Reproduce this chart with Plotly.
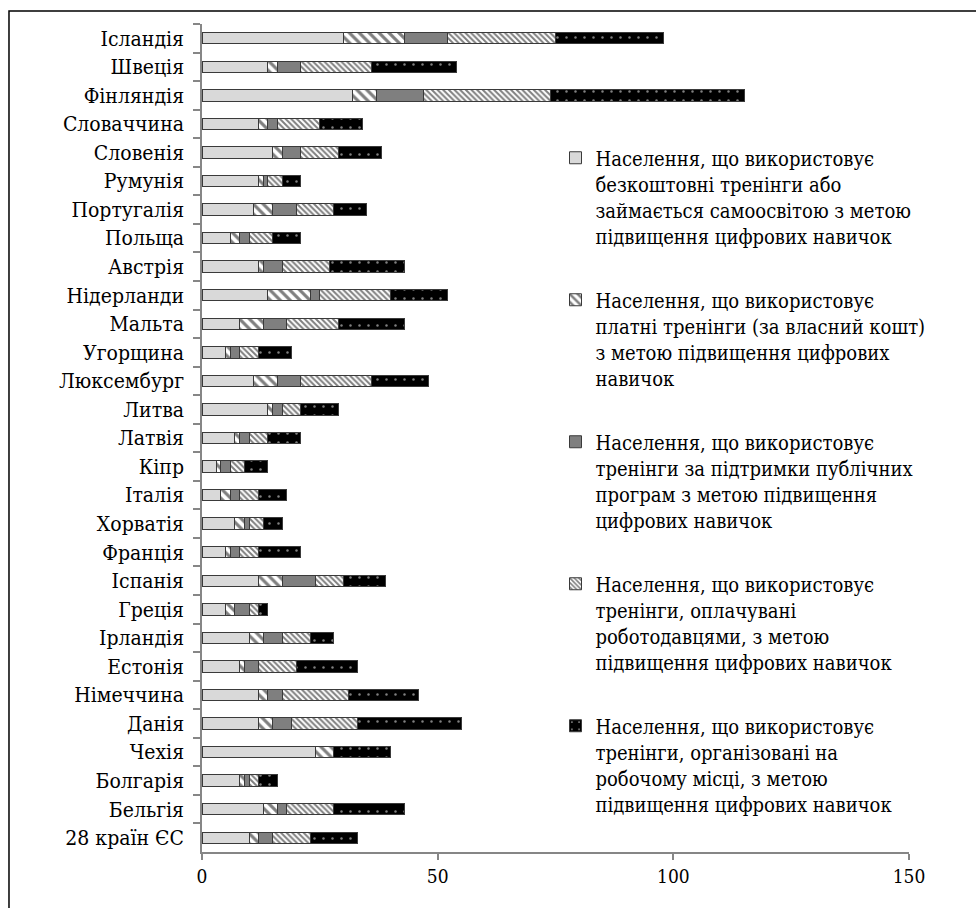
import plotly.graph_objects as go

countries = ["Ісландія", "Швеція", "Фінляндія", "Словаччина", "Словенія", "Румунія",
             "Португалія", "Польща", "Австрія", "Нідерланди", "Мальта", "Угорщина",
             "Люксембург", "Литва", "Латвія", "Кіпр", "Італія", "Хорватія", "Франція",
             "Іспанія", "Греція", "Ірландія", "Естонія", "Німеччина", "Данія", "Чехія",
             "Болгарія", "Бельгія", "28 країн ЄС"]

free_self = [30, 14, 32, 12, 15, 12, 11, 6, 12, 14, 8, 5, 11, 14, 7, 3, 4, 7, 5, 12, 5, 10, 8, 12, 12, 24, 8, 13, 10]
paid_own = [13, 2, 5, 2, 2, 1, 4, 2, 1, 9, 5, 1, 5, 1, 1, 1, 2, 2, 1, 5, 2, 3, 1, 2, 3, 4, 1, 3, 2]
public_prog = [9, 5, 10, 2, 4, 1, 5, 2, 4, 2, 5, 2, 5, 2, 2, 2, 2, 1, 2, 7, 3, 4, 3, 3, 4, 0, 1, 2, 3]
employer_paid = [23, 15, 27, 9, 8, 3, 8, 5, 10, 15, 11, 4, 15, 4, 4, 3, 4, 3, 4, 6, 2, 6, 8, 14, 14, 0, 2, 10, 8]
on_the_job = [23, 18, 41, 9, 9, 4, 7, 6, 16, 12, 14, 7, 12, 8, 7, 5, 6, 4, 9, 9, 2, 5, 13, 15, 22, 12, 4, 15, 10]

names = [
    "Населення, що використовує<br>безкоштовні тренінги або<br>займається самоосвітою з метою<br>підвищення цифрових навичок",
    "Населення, що використовує<br>платні тренінги (за власний кошт)<br>з метою підвищення цифрових<br>навичок",
    "Населення, що використовує<br>тренінги за підтримки публічних<br>програм з метою підвищення<br>цифрових навичок",
    "Населення, що використовує<br>тренінги, оплачувані<br>роботодавцями, з метою<br>підвищення цифрових навичок",
    "Населення, що використовує<br>тренінги, організовані на<br>робочому місці, з метою<br>підвищення цифрових навичок",
]

series = [free_self, paid_own, public_prog, employer_paid, on_the_job]
styles = [
    dict(color="#d9d9d9"),
    dict(color="white", pattern=dict(shape="\\", fgcolor="black", bgcolor="white", size=7, solidity=0.45)),
    dict(color="#7f7f7f"),
    dict(color="white", pattern=dict(shape="\\", fgcolor="black", bgcolor="white", size=4, solidity=0.5)),
    dict(color="black", pattern=dict(shape=".", fgcolor="white", bgcolor="black", size=9, solidity=0.06)),
]

FONT = "DejaVu Serif Condensed"

fig = go.Figure()
for i, (vals, st, nm) in enumerate(zip(series, styles, names)):
    fig.add_trace(go.Bar(
        y=countries, x=vals, orientation="h", name=nm,
        legendgroup=f"g{i}",
        marker=dict(**st, line=dict(color="#3a3a3a", width=1)),
    ))

fig.update_layout(
    width=976, height=908,
    barmode="stack", bargap=0.6,
    plot_bgcolor="white", paper_bgcolor="white",
    font=dict(family=FONT, size=20, color="black"),
    margin=dict(l=202, r=67, t=24, b=56),
    showlegend=True,
    legend=dict(
        x=0.50, y=0.862, xanchor="left", yanchor="top",
        bgcolor="rgba(0,0,0,0)", traceorder="grouped", tracegroupgap=35,
        valign="top", font=dict(family=FONT, size=20, color="black"),
    ),
    shapes=[dict(type="rect", xref="paper", yref="paper",
                 x0=-0.273, x1=1.12, y0=-0.08, y1=1.0157,
                 line=dict(color="black", width=1.5), fillcolor="rgba(0,0,0,0)", layer="below")],
)

fig.update_xaxes(
    range=[0, 150], tickvals=[0, 50, 100, 150], showgrid=False, zeroline=False,
    showline=True, linecolor="#868686", linewidth=1.5,
    ticks="outside", ticklen=6, tickcolor="#868686", tickwidth=1.5,
    tickfont=dict(family=FONT, size=19, color="black"),
)
fig.update_yaxes(
    autorange="reversed", showgrid=False, zeroline=False,
    showline=True, linecolor="#868686", linewidth=1.5,
    ticks="outside", ticklen=7, tickcolor="#868686", tickwidth=1.5, tickson="boundaries",
    ticklabelstandoff=12,
    tickfont=dict(family=FONT, size=21, color="black"),
)

fig.write_html("out.html")
